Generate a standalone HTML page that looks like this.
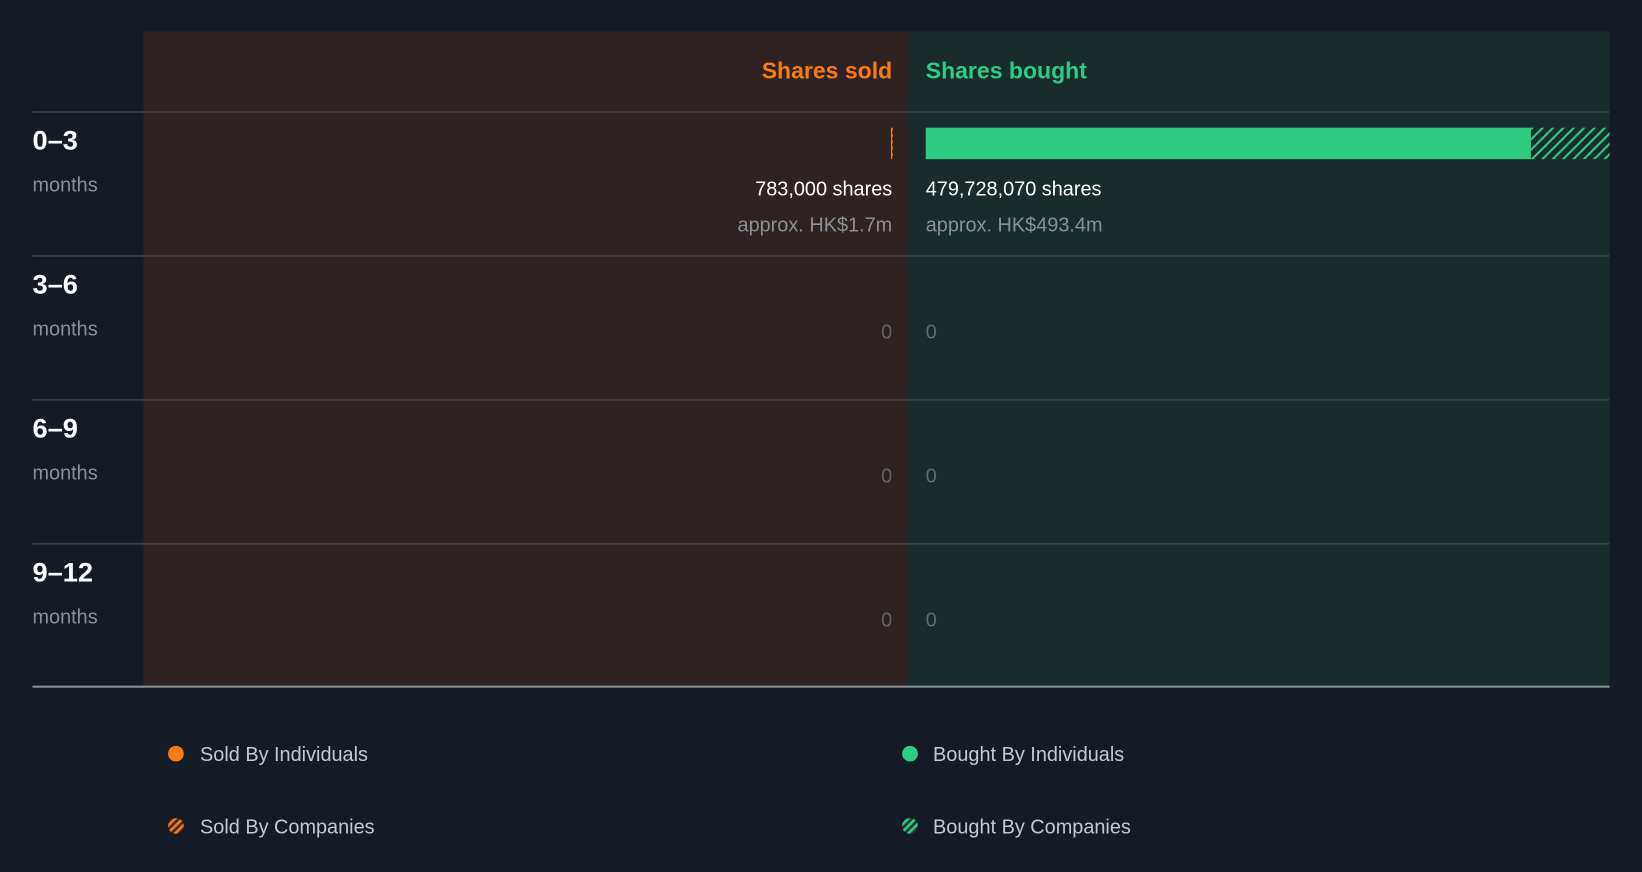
<!DOCTYPE html>
<html><head><meta charset="utf-8"><style>
html,body{margin:0;padding:0;background:#151b24;}
svg{display:block;font-family:"Liberation Sans",sans-serif;}
</style></head><body>
<svg width="1642" height="872" viewBox="0 0 1568 833" preserveAspectRatio="none" xmlns="http://www.w3.org/2000/svg">
<defs>
<pattern id="hatchG" patternUnits="userSpaceOnUse" width="7" height="7" patternTransform="rotate(45)">
<rect width="7" height="7" fill="#182c2c"/><rect width="2" height="7" fill="#2ecb83"/></pattern>
<pattern id="hatchO" patternUnits="userSpaceOnUse" width="5" height="5" patternTransform="rotate(45)">
<rect width="5" height="5" fill="#3a2a22"/><rect width="2.5" height="5" fill="#f97b16"/></pattern>
<pattern id="hatchG2" patternUnits="userSpaceOnUse" width="5" height="5" patternTransform="rotate(45)">
<rect width="5" height="5" fill="#1d3a32"/><rect width="2.5" height="5" fill="#2ecb83"/></pattern>
</defs>
<rect width="1568" height="833" fill="#151b24"/>
<rect x="137" y="30" width="731" height="626" fill="#2e2322"/>
<rect x="868" y="30" width="669" height="626" fill="#182c2c"/>
<text x="852" y="75" text-anchor="end" fill="#f97b16" font-size="22" font-weight="bold">Shares sold</text>
<text x="884" y="75" fill="#2ecb83" font-size="22" font-weight="bold">Shares bought</text>
<g id="rows"></g>
<line x1="31" y1="656" x2="1537" y2="656" stroke="#8a8f95" stroke-width="2"/>
<g>
<circle cx="168" cy="720" r="7.5" fill="#f97b16"/>
<text x="191" y="727" fill="#c5c8cc" font-size="19">Sold By Individuals</text>
<circle cx="168" cy="789" r="7.5" fill="url(#hatchO)"/>
<text x="191" y="796" fill="#c5c8cc" font-size="19">Sold By Companies</text>
<circle cx="869" cy="720" r="7.5" fill="#2ecb83"/>
<text x="891" y="727" fill="#c5c8cc" font-size="19">Bought By Individuals</text>
<circle cx="869" cy="789" r="7.5" fill="url(#hatchG2)"/>
<text x="891" y="796" fill="#c5c8cc" font-size="19">Bought By Companies</text>
</g>
</svg>
<script>
const categories = ["0\u20133","3\u20136","6\u20139","9\u201312"];
const soldIndividuals = [783000,0,0,0];
const soldCompanies = [0,0,0,0];
const boughtIndividuals = [424600000,0,0,0];
const boughtCompanies = [55128070,0,0,0];
const soldValueLabels = ["approx. HK$1.7m","","",""];
const boughtValueLabels = ["approx. HK$493.4m","","",""];

const NS="http://www.w3.org/2000/svg";
const g=document.getElementById('rows');
const rowTop=107, rowH=137.5, leftStart=852, rightStart=884, rightEnd=1537, leftEnd=137;
const maxVal=Math.max(...categories.map((c,i)=>Math.max(soldIndividuals[i]+soldCompanies[i], boughtIndividuals[i]+boughtCompanies[i])));
const bScale=v=>v/maxVal*(rightEnd-rightStart);
const sScale=v=>v/maxVal*(leftStart-leftEnd);
function mk(tag,attrs,text){const e=document.createElementNS(NS,tag);for(const k in attrs)e.setAttribute(k,attrs[k]);if(text!==undefined)e.textContent=text;g.appendChild(e);return e;}
const fmt=n=>n.toLocaleString('en-US');
categories.forEach((c,i)=>{
  const y=rowTop+i*rowH;
  const sep=mk('line',{x1:31,y1:y,x2:1537,y2:y,stroke:'#3b4046','stroke-width':1.5});
  
  
  const l=mk('text',{x:31,y:y+36,fill:'#ffffff','font-size':26,'font-weight':'bold'},c);
  
  
  const m=mk('text',{x:31,y:y+76,fill:'#8a8f95','font-size':19},'months');
  
  
  const sTot=soldIndividuals[i]+soldCompanies[i], bTot=boughtIndividuals[i]+boughtCompanies[i];
  if(sTot>0){
    const w1=sScale(soldIndividuals[i]), w2=sScale(soldCompanies[i]);
    const d=mk('line',{x1:leftStart,y1:y+15,x2:leftStart,y2:y+45,stroke:'#f97b16','stroke-width':1,'stroke-dasharray':'3,3'});
    
    
    const r=mk('rect',{x:leftStart-w1,y:y+15,width:w1,height:30,fill:'#f97b16'});
    
    
    const r2=mk('rect',{x:leftStart-w1-w2,y:y+15,width:w2,height:30,fill:'url(#hatchO)'});
    
    
    const t=mk('text',{x:leftStart,y:y+80,'text-anchor':'end',fill:'#ffffff','font-size':19},fmt(sTot)+' shares');
    
    
    const a=mk('text',{x:leftStart,y:y+114,'text-anchor':'end',fill:'#8a8f95','font-size':19},soldValueLabels[i]);
    
    
  } else {
    const z=mk('text',{x:leftStart,y:y+79,'text-anchor':'end',fill:'#5f6468','font-size':19},'0');
    
    
  }
  if(bTot>0){
    const w1=bScale(boughtIndividuals[i]), w2=bScale(boughtCompanies[i]);
    const r=mk('rect',{x:rightStart,y:y+15,width:w1,height:30,fill:'#2ecb83'});
    
    
    const r2=mk('rect',{x:rightStart+w1,y:y+15,width:w2,height:30,fill:'url(#hatchG)'});
    
    
    const t=mk('text',{x:rightStart,y:y+80,fill:'#ffffff','font-size':19},fmt(bTot)+' shares');
    
    
    const a=mk('text',{x:rightStart,y:y+114,fill:'#8a8f95','font-size':19},boughtValueLabels[i]);
    
    
  } else {
    const z=mk('text',{x:rightStart,y:y+79,fill:'#5f6e6c','font-size':19},'0');
    
    
  }
});
</script>
</body></html>
